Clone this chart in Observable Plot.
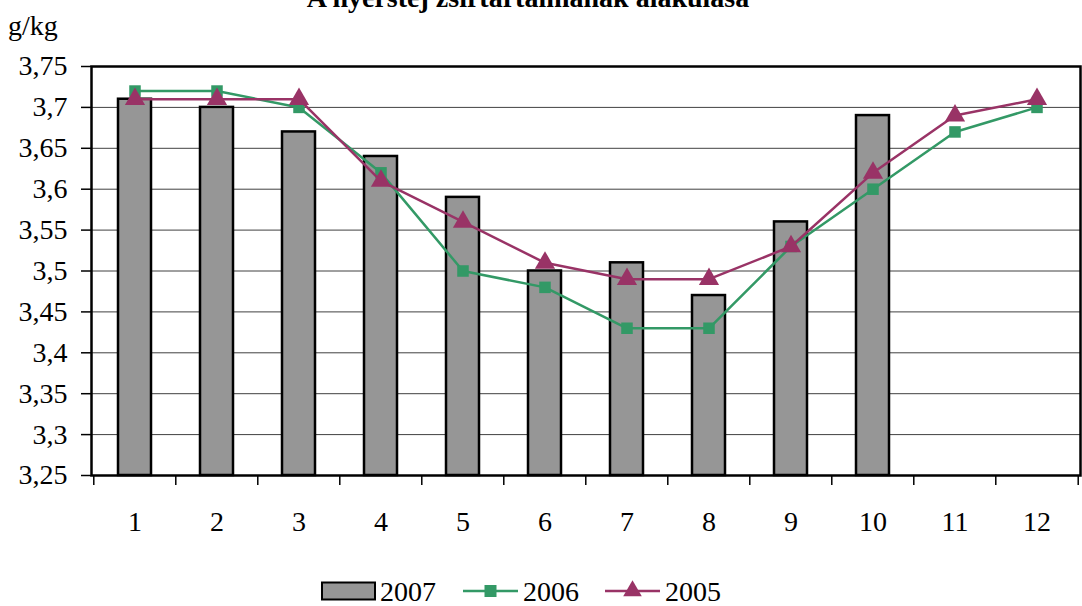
<!DOCTYPE html>
<html>
<head>
<meta charset="utf-8">
<script src="https://cdn.jsdelivr.net/npm/d3@7"></script>
<script src="https://cdn.jsdelivr.net/npm/@observablehq/plot@0.6"></script>
<style>
  html, body { margin: 0; padding: 0; background: #fff; }
  #chart { position: relative; width: 1082px; height: 606px; overflow: hidden; }
  #chart svg, #chart svg text { font-family: "Liberation Serif", "Times New Roman", serif !important; }
</style>
</head>
<body>
<div id="chart"></div>
<script>
const title = "A nyerstej zsírtartalmának alakulása";
const unitLabel = "g/kg";
const months = ["1","2","3","4","5","6","7","8","9","10","11","12"];
const series2007 = [3.71, 3.70, 3.67, 3.64, 3.59, 3.50, 3.51, 3.47, 3.56, 3.69, null, null];
const series2006 = [3.72, 3.72, 3.70, 3.62, 3.50, 3.48, 3.43, 3.43, 3.53, 3.60, 3.67, 3.70];
const series2005 = [3.71, 3.71, 3.71, 3.61, 3.56, 3.51, 3.49, 3.49, 3.53, 3.62, 3.69, 3.71];
const yTicks = [3.25, 3.3, 3.35, 3.4, 3.45, 3.5, 3.55, 3.6, 3.65, 3.7, 3.75];
const legendNames = ["2007", "2006", "2005"];

const bars = months.map((m, i) => ({month: m, value: series2007[i]})).filter(d => d.value != null);
const d2006 = months.map((m, i) => ({month: m, value: series2006[i]}));
const d2005 = months.map((m, i) => ({month: m, value: series2005[i]}));

const W = 1082, H = 606;
const mL = 91, mR = 2, mT = 66, mB = 131;
const step = (W - mL - mR) / months.length;
const font = "Liberation Serif, Times New Roman, serif";
const fmt = d => String(+d.toFixed(2)).replace(".", ",");

const plot = Plot.plot({
  width: W, height: H,
  marginLeft: mL, marginRight: mR, marginTop: mT, marginBottom: mB,
  style: "font-family: 'Liberation Serif', serif; font-size: 28px; background: #fff; color: #000;",
  x: {type: "band", domain: months, paddingInner: 0.6, paddingOuter: 0.3, label: null},
  y: {domain: [3.25, 3.75], label: null},
  marks: [
    Plot.gridY(yTicks, {stroke: "#000", strokeOpacity: 0.75, strokeWidth: 1}),
    Plot.barY(bars, {x: "month", y1: 3.25, y2: "value", fill: "#969696", stroke: "#000", strokeWidth: 2.5}),
    Plot.line(d2006, {x: "month", y: "value", stroke: "#339966", strokeWidth: 2.5}),
    Plot.dot(d2006, {x: "month", y: "value", symbol: "square", r: 6.5, fill: "#339966"}),
    Plot.line(d2005, {x: "month", y: "value", stroke: "#993366", strokeWidth: 2.5}),
    Plot.dot(d2005, {x: "month", y: "value", symbol: "triangle", r: 7.5, fill: "#993366"}),
    Plot.frame({stroke: "#000", strokeWidth: 2.5}),
    Plot.axisY(yTicks, {tickSize: 10, tickPadding: 14, tickFormat: fmt, label: null, strokeWidth: 1.5, fontSize: 28}),
    Plot.axisX(months, {tickSize: 0, tickPadding: 36, label: null, fontSize: 28}),
    Plot.axisX(months, {tickSize: 10, dx: -step / 2, tickFormat: () => "", label: null, strokeWidth: 1.5}),
    Plot.axisX([months[months.length - 1]], {tickSize: 10, dx: step / 2, tickFormat: () => "", label: null, strokeWidth: 1.5})
  ]
});
document.getElementById("chart").appendChild(plot);

const svg = d3.select(plot);
svg.append("text").attr("x", 528).attr("y", 7).attr("text-anchor", "middle")
  .attr("font-weight", "bold").attr("font-size", 28).text(title);
svg.append("text").attr("x", 8).attr("y", 35).attr("text-anchor", "start").attr("font-size", 28).text(unitLabel);

// legend
const lg = svg.append("g").attr("font-size", 28).attr("text-anchor", "start");
const ly = 591;
lg.append("rect").attr("x", 322).attr("y", ly - 8.5).attr("width", 53).attr("height", 17)
  .attr("fill", "#969696").attr("stroke", "#000").attr("stroke-width", 2);
lg.append("text").attr("x", 380).attr("y", ly + 9.5).text(legendNames[0]);
lg.append("line").attr("x1", 463).attr("x2", 518).attr("y1", ly).attr("y2", ly).attr("stroke", "#339966").attr("stroke-width", 2.5);
lg.append("rect").attr("x", 490.5 - 6).attr("y", ly - 6).attr("width", 12).attr("height", 12).attr("fill", "#339966");
lg.append("text").attr("x", 523).attr("y", ly + 9.5).text(legendNames[1]);
lg.append("line").attr("x1", 605).attr("x2", 660).attr("y1", ly).attr("y2", ly).attr("stroke", "#993366").attr("stroke-width", 2.5);
lg.append("path").attr("d", d3.symbol(d3.symbolTriangle, 150)()).attr("transform", `translate(632.5,${ly})`).attr("fill", "#993366");
lg.append("text").attr("x", 665).attr("y", ly + 9.5).text(legendNames[2]);
</script>
</body>
</html>
